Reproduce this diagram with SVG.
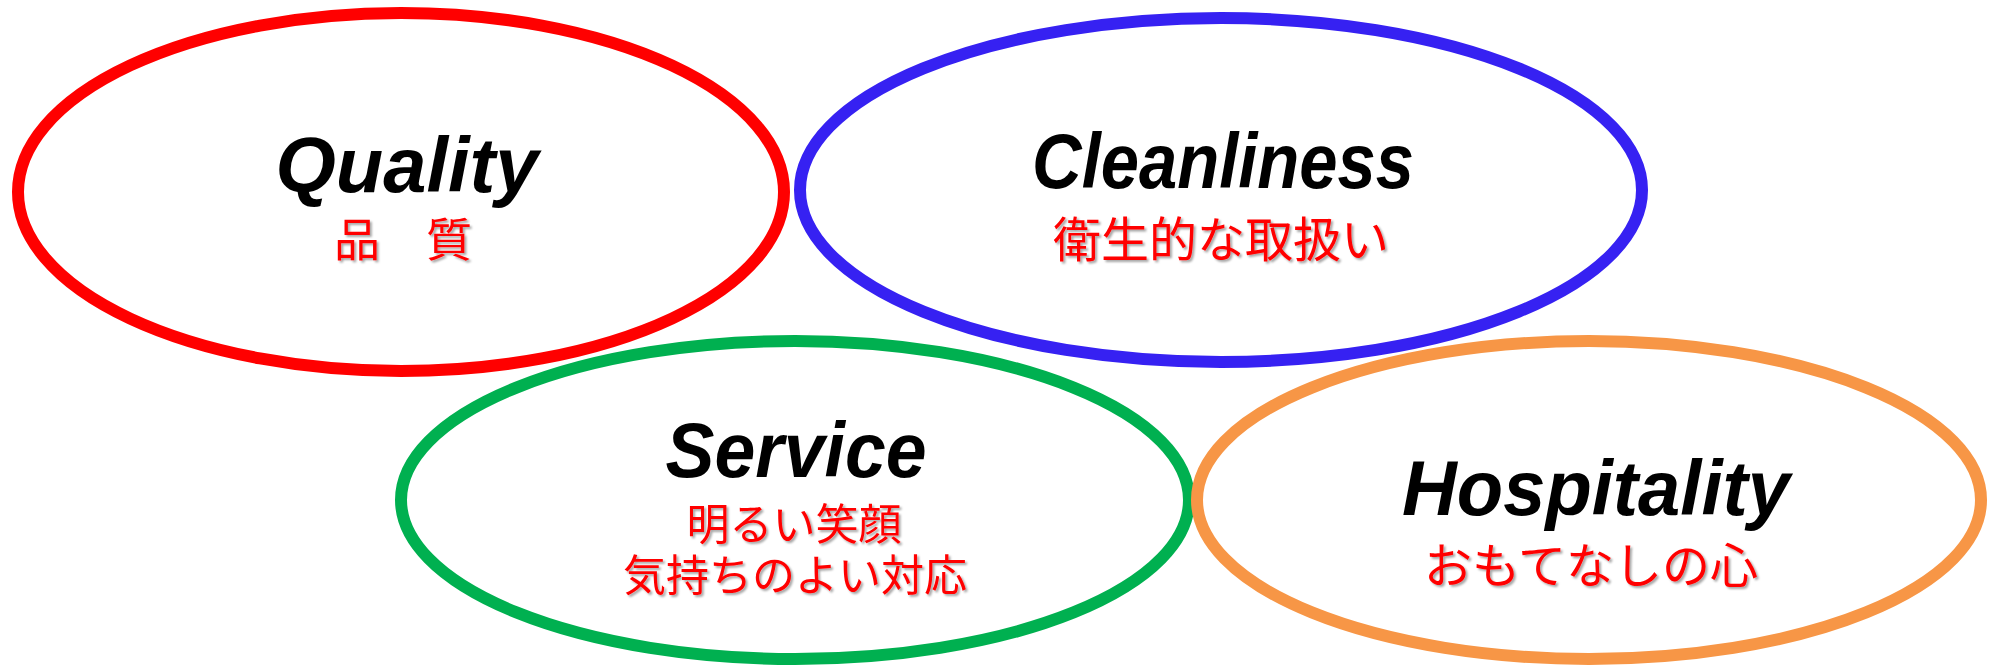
<svg xmlns="http://www.w3.org/2000/svg" width="1990" height="666" viewBox="0 0 1990 666">
  <defs>
    <filter id="shadow" x="-10%" y="-30%" width="120%" height="160%">
      <feDropShadow dx="2" dy="2" stdDeviation="1.2" flood-color="#000000" flood-opacity="0.35"/>
    </filter>
  </defs>
  <style>
    .ring { fill: none; stroke-width: 12; }
    .en { font-family: "Liberation Sans", Arial, sans-serif; font-weight: bold; font-style: italic; font-size: 78px; fill: #000000; text-anchor: middle; }
    .jp { font-family: "Noto Sans CJK JP", "Noto Sans CJK SC", sans-serif; fill: #FF0000; text-anchor: middle; filter: url(#shadow); }
  </style>
  <rect x="0" y="0" width="1990" height="666" fill="#FFFFFF"/>

  <g id="quality">
    <ellipse class="ring" cx="401" cy="192" rx="383" ry="179" stroke="#FF0000"/>
    <text class="en" x="407" y="192" textLength="263" lengthAdjust="spacingAndGlyphs">Quality</text>
    <text class="jp" x="403" y="256" font-size="46">品　質</text>
  </g>

  <g id="cleanliness">
    <ellipse class="ring" cx="1221" cy="190" rx="421" ry="172" stroke="#3621F2"/>
    <text class="en" x="1223" y="188" textLength="382" lengthAdjust="spacingAndGlyphs">Cleanliness</text>
    <text class="jp" x="1221" y="257" font-size="48">衛生的な取扱い</text>
  </g>

  <g id="service">
    <ellipse class="ring" cx="795" cy="500" rx="394" ry="159" stroke="#00B050"/>
    <text class="en" x="796" y="477" textLength="261" lengthAdjust="spacingAndGlyphs">Service</text>
    <text class="jp" font-size="43"><tspan x="794" y="540">明るい笑顔</tspan><tspan x="795" y="591">気持ちのよい対応</tspan></text>
  </g>

  <g id="hospitality">
    <ellipse class="ring" cx="1589" cy="500" rx="392" ry="159" stroke="#F79646"/>
    <text class="en" x="1596" y="515" textLength="388" lengthAdjust="spacingAndGlyphs">Hospitality</text>
    <text class="jp" x="1591" y="583" font-size="48">おもてなしの心</text>
  </g>

  <g id="connectors"></g>
</svg>
